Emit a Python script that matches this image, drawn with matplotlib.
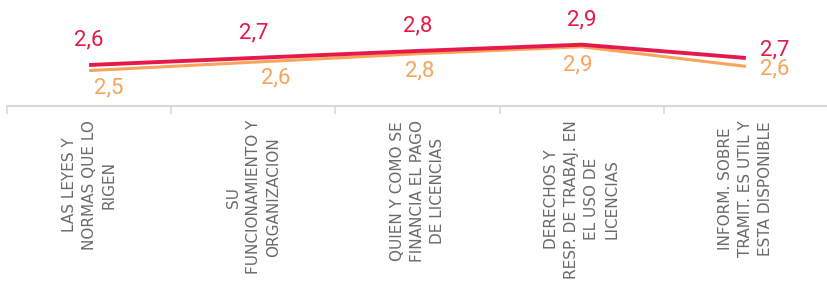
import matplotlib
matplotlib.use("Agg")
import matplotlib.pyplot as plt
import numpy as np

# data
categories = [
    "LAS LEYES Y\nNORMAS QUE LO\nRIGEN",
    "SU\nFUNCIONAMIENTO Y\nORGANIZACION",
    "QUIEN Y COMO SE\nFINANCIA EL PAGO\nDE LICENCIAS",
    "DERECHOS Y\nRESP. DE TRABAJ. EN\nEL USO DE\nLICENCIAS",
    "INFORM. SOBRE\nTRAMIT. ES UTIL Y\nESTA DISPONIBLE",
]
serie_roja = [2.60, 2.70, 2.80, 2.89, 2.70]
serie_naranja = [2.52, 2.64, 2.76, 2.86, 2.58]

rojo = "#e5194a"
naranja = "#f8a45a"
gris = "#6a6a6a"

fig = plt.figure(figsize=(8.28, 2.84), dpi=100)
ax = fig.add_axes([7 / 828, 1 - 106 / 284, 1 - 7 / 828, 106 / 284])

x = np.arange(len(categories))
ax.plot(x, serie_naranja, color=naranja, lw=2.2, solid_capstyle="butt", zorder=2)
ax.plot(x, serie_roja, color=rojo, lw=2.8, solid_capstyle="butt", zorder=3)

# offsets for the value labels (pixels)
off_rojo = [(0, 25), (0, 25), (0, 25), (0, 25), (29, 8)]
off_naranja = [(20, -17), (22, -16), (2, -17), (-4, -18), (29, -3)]

for i in range(len(x)):
    ax.annotate(f"{serie_roja[i]:.1f}".replace(".", ","), (x[i], serie_roja[i]),
                xytext=off_rojo[i], textcoords="offset pixels",
                ha="center", va="center", color=rojo, fontsize=16,
                family="Roboto", zorder=5)
    ax.annotate(f"{serie_naranja[i]:.1f}".replace(".", ","), (x[i], serie_naranja[i]),
                xytext=off_naranja[i], textcoords="offset pixels",
                ha="center", va="center", color=naranja, fontsize=16,
                family="Roboto", zorder=4)

ax.set_xlim(-0.5, len(categories) - 0.5)
ax.set_ylim(2.014, 2.014 + 106 / 70)

for s in ["top", "right", "left"]:
    ax.spines[s].set_visible(False)
ax.spines["bottom"].set_color("#d9d9d9")
ax.spines["bottom"].set_linewidth(1.5)
ax.set_yticks([])

ax.set_xticks(x)
ax.set_xticklabels(categories, rotation=90, va="top", ha="center",
                   multialignment="center", color=gris, fontsize=11,
                   family="DejaVu Sans", linespacing=1.42)
ax.tick_params(axis="x", which="major", length=0, pad=10)
ax.set_xticks(np.arange(-0.5, len(categories), 1), minor=True)
ax.tick_params(axis="x", which="minor", length=6, color="#d9d9d9", width=1.2)

fig.savefig("out.png", dpi=100)
